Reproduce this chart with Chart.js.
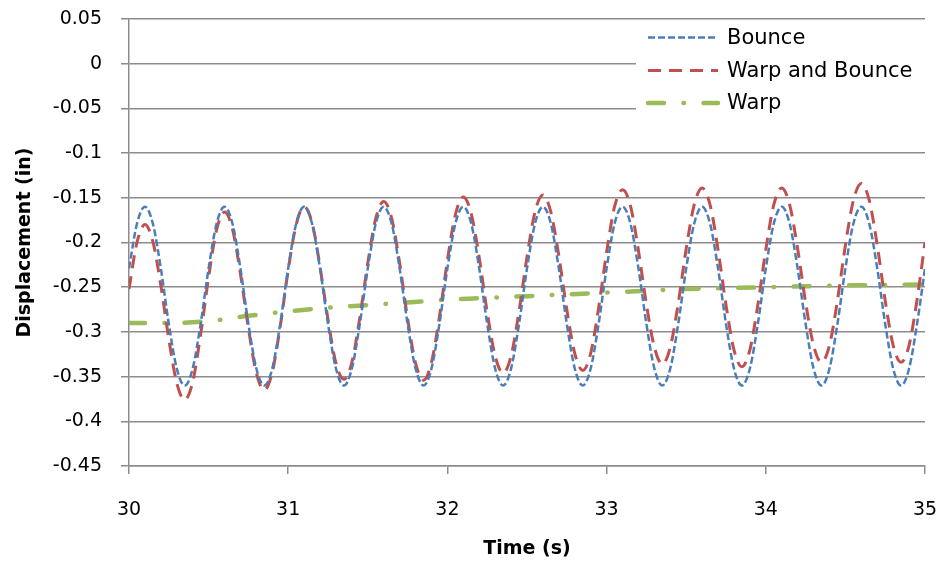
<!DOCTYPE html>
<html>
<head>
<meta charset="utf-8">
<script src="https://cdn.jsdelivr.net/npm/chart.js@4.4.1/dist/chart.umd.min.js"></script>
<style>
  html, body { margin: 0; padding: 0; background: #ffffff; }
  canvas { display: block; }
</style>
</head>
<body>
<canvas id="chart" width="943" height="564"></canvas>
<script>
// Sample times (s) for the two oscillating series
const time = [
  30.00, 30.05, 30.10, 30.15, 30.20, 30.25, 30.30, 30.35, 30.40, 30.45,
  30.50, 30.55, 30.60, 30.65, 30.70, 30.75, 30.80, 30.85, 30.90, 30.95,
  31.00, 31.05, 31.10, 31.15, 31.20, 31.25, 31.30, 31.35, 31.40, 31.45,
  31.50, 31.55, 31.60, 31.65, 31.70, 31.75, 31.80, 31.85, 31.90, 31.95,
  32.00, 32.05, 32.10, 32.15, 32.20, 32.25, 32.30, 32.35, 32.40, 32.45,
  32.50, 32.55, 32.60, 32.65, 32.70, 32.75, 32.80, 32.85, 32.90, 32.95,
  33.00, 33.05, 33.10, 33.15, 33.20, 33.25, 33.30, 33.35, 33.40, 33.45,
  33.50, 33.55, 33.60, 33.65, 33.70, 33.75, 33.80, 33.85, 33.90, 33.95,
  34.00, 34.05, 34.10, 34.15, 34.20, 34.25, 34.30, 34.35, 34.40, 34.45,
  34.50, 34.55, 34.60, 34.65, 34.70, 34.75, 34.80, 34.85, 34.90, 34.95,
  35.00
];

// Displacement (in), bounce only
const bounce = [
  -0.229, -0.179, -0.160, -0.179, -0.229, -0.291, -0.341, -0.360, -0.341, -0.291,
  -0.229, -0.179, -0.160, -0.179, -0.229, -0.291, -0.341, -0.360, -0.341, -0.291,
  -0.229, -0.179, -0.160, -0.179, -0.229, -0.291, -0.341, -0.360, -0.341, -0.291,
  -0.229, -0.179, -0.160, -0.179, -0.229, -0.291, -0.341, -0.360, -0.341, -0.291,
  -0.229, -0.179, -0.160, -0.179, -0.229, -0.291, -0.341, -0.360, -0.341, -0.291,
  -0.229, -0.179, -0.160, -0.179, -0.229, -0.291, -0.341, -0.360, -0.341, -0.291,
  -0.229, -0.179, -0.160, -0.179, -0.229, -0.291, -0.341, -0.360, -0.341, -0.291,
  -0.229, -0.179, -0.160, -0.179, -0.229, -0.291, -0.341, -0.360, -0.341, -0.291,
  -0.229, -0.179, -0.160, -0.179, -0.229, -0.291, -0.341, -0.360, -0.341, -0.291,
  -0.229, -0.179, -0.160, -0.179, -0.229, -0.291, -0.341, -0.360, -0.341, -0.291,
  -0.229
];

// Displacement (in), warp and bounce combined
const warpAndBounce = [
  -0.252, -0.200, -0.180, -0.199, -0.248, -0.308, -0.357, -0.376, -0.356, -0.303,
  -0.239, -0.186, -0.166, -0.185, -0.235, -0.296, -0.346, -0.365, -0.345, -0.294,
  -0.231, -0.180, -0.160, -0.178, -0.227, -0.286, -0.335, -0.353, -0.334, -0.284,
  -0.223, -0.173, -0.154, -0.173, -0.223, -0.285, -0.335, -0.354, -0.334, -0.283,
  -0.220, -0.169, -0.149, -0.168, -0.217, -0.278, -0.327, -0.346, -0.327, -0.277,
  -0.216, -0.166, -0.147, -0.166, -0.215, -0.275, -0.324, -0.343, -0.324, -0.273,
  -0.211, -0.160, -0.141, -0.159, -0.209, -0.269, -0.317, -0.336, -0.317, -0.268,
  -0.207, -0.158, -0.139, -0.158, -0.208, -0.270, -0.320, -0.339, -0.320, -0.270,
  -0.208, -0.158, -0.139, -0.158, -0.207, -0.267, -0.315, -0.334, -0.315, -0.265,
  -0.203, -0.153, -0.134, -0.153, -0.203, -0.265, -0.315, -0.334, -0.315, -0.264,
  -0.200
];

// Warp only: slow drift, sampled more coarsely
const warpTime = [
  30.00, 30.25, 30.50, 30.75, 31.00, 31.25, 31.50, 31.75, 32.00, 32.25, 32.50,
  32.75, 33.00, 33.25, 33.50, 33.75, 34.00, 34.25, 34.50, 34.75, 35.00
];
const warp = [
  -0.290, -0.290, -0.288, -0.282, -0.277, -0.273, -0.270, -0.267, -0.264, -0.262, -0.260,
  -0.258, -0.256, -0.254, -0.252, -0.251, -0.250, -0.249, -0.248, -0.2475, -0.247
];

const seriesNames = ['Bounce', 'Warp and Bounce', 'Warp'];

// Axis ticks
const xTickValues = [30, 31, 32, 33, 34, 35];
const xTickLabels = ['30', '31', '32', '33', '34', '35'];
const yTickValues = [-0.45, -0.4, -0.35, -0.3, -0.25, -0.2, -0.15, -0.1, -0.05, 0, 0.05];
const yTickLabels = ['-0.45', '-0.4', '-0.35', '-0.3', '-0.25', '-0.2', '-0.15', '-0.1', '-0.05', '0', '0.05'];

const pairs = (xs, ys) => xs.map((x, i) => ({ x: x, y: ys[i] }));

const GRID = '#8c8c8c';
const FONT = 'DejaVu Sans';

// Legend drawn in the top-right corner on a white panel
const cornerLegend = {
  id: 'cornerLegend',
  afterDatasetsDraw(chart) {
    const ctx = chart.ctx;
    const rows = [37.5, 70.5, 103];
    ctx.save();
    ctx.fillStyle = '#ffffff';
    ctx.fillRect(636, 22, 300, 100);
    chart.data.datasets.forEach((ds, i) => {
      const y = rows[i];
      ctx.beginPath();
      ctx.strokeStyle = ds.borderColor;
      ctx.lineWidth = ds.borderWidth;
      ctx.lineCap = ds.borderCapStyle || 'butt';
      ctx.setLineDash(ds.borderDash || []);
      ctx.moveTo(648, y);
      ctx.lineTo(718, y);
      ctx.stroke();
      ctx.setLineDash([]);
      ctx.fillStyle = '#000000';
      ctx.font = '21px "' + FONT + '"';
      ctx.textAlign = 'left';
      ctx.textBaseline = 'middle';
      ctx.fillText(ds.label, 727, y + 1);
    });
    ctx.restore();
  }
};

new Chart(document.getElementById('chart'), {
  type: 'line',
  data: {
    datasets: [
      {
        label: seriesNames[0],
        data: pairs(time, bounce),
        borderColor: '#4a7ebb',
        borderWidth: 2.5,
        borderDash: [7, 3],
        borderCapStyle: 'butt',
        cubicInterpolationMode: 'monotone',
        pointRadius: 0,
        fill: false
      },
      {
        label: seriesNames[1],
        data: pairs(time, warpAndBounce),
        borderColor: '#c0504d',
        borderWidth: 3,
        borderDash: [13, 8],
        borderCapStyle: 'butt',
        cubicInterpolationMode: 'monotone',
        pointRadius: 0,
        fill: false
      },
      {
        label: seriesNames[2],
        data: pairs(warpTime, warp),
        borderColor: '#9bbb59',
        borderWidth: 4.5,
        borderDash: [16, 19.5, 0.5, 19.5],
        borderCapStyle: 'round',
        cubicInterpolationMode: 'monotone',
        pointRadius: 0,
        fill: false
      }
    ]
  },
  options: {
    responsive: false,
    animation: false,
    devicePixelRatio: 1,
    layout: { padding: { left: 0, top: 19, right: 18, bottom: 0 } },
    plugins: {
      legend: { display: false },
      tooltip: { enabled: false }
    },
    scales: {
      x: {
        type: 'linear',
        min: 30,
        max: 35,
        afterBuildTicks: s => { s.ticks = xTickValues.map(v => ({ value: v })); },
        afterFit: s => {
          s.height = 98;
          s.paddingLeft = 0;
          s.paddingRight = 0;
        },
        ticks: {
          callback: (v, i) => xTickLabels[i],
          color: '#000000',
          font: { family: FONT, size: 19 },
          padding: 25,
          maxRotation: 0,
          autoSkip: false
        },
        grid: {
          display: true,
          drawOnChartArea: false,
          drawTicks: true,
          tickLength: 8,
          color: GRID,
          lineWidth: 1.5
        },
        border: { display: true, color: GRID, width: 1.5 },
        title: {
          display: true,
          text: 'Time (s)',
          color: '#000000',
          font: { family: FONT, size: 19, weight: 'bold' },
          padding: { top: 0, bottom: 4 }
        }
      },
      y: {
        type: 'linear',
        min: -0.45,
        max: 0.05,
        afterBuildTicks: s => { s.ticks = yTickValues.map(v => ({ value: v })); },
        afterFit: s => {
          s.width = 129;
          s.paddingTop = 0;
          s.paddingBottom = 0;
        },
        ticks: {
          callback: (v, i) => yTickLabels[i],
          color: '#000000',
          font: { family: FONT, size: 19 },
          padding: 19,
          autoSkip: false
        },
        grid: {
          display: true,
          drawOnChartArea: true,
          drawTicks: true,
          tickLength: 8,
          color: GRID,
          lineWidth: 1.5
        },
        border: { display: true, color: GRID, width: 1.5 },
        title: {
          display: true,
          text: 'Displacement (in)',
          color: '#000000',
          font: { family: FONT, size: 19, weight: 'bold' },
          padding: { top: 14, bottom: 0 }
        }
      }
    }
  },
  plugins: [cornerLegend]
});
</script>
</body>
</html>
